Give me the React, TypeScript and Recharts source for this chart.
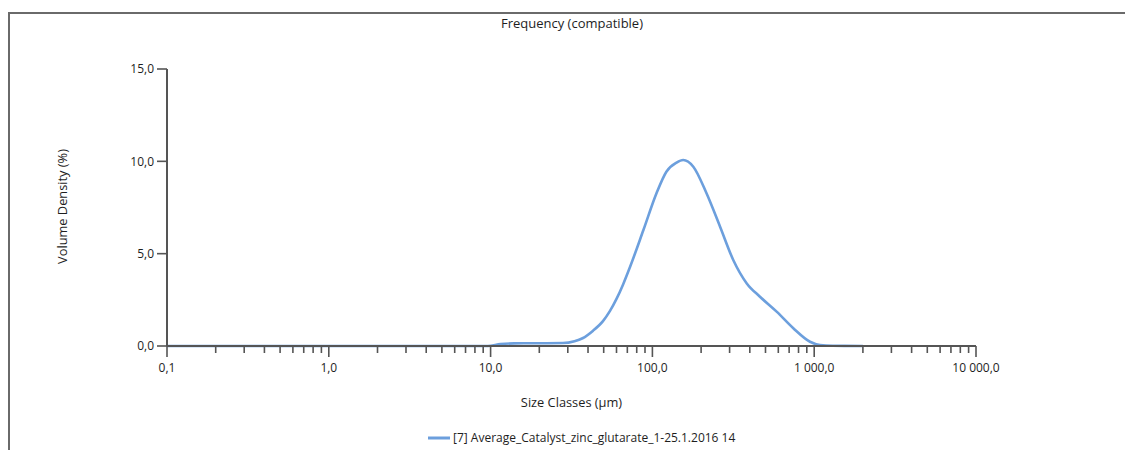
import React from 'react';
import { LineChart, Line, XAxis, YAxis, Legend } from 'recharts';

// particle size classes (µm) and volume density (%)
const sizes = [
  0.1, 1, 9.6, 11.5, 14, 20, 28, 33, 37, 43, 49.5, 54.7, 60, 66, 72.8, 88, 106, 122, 141, 155,
  179, 216, 262, 316, 383, 462, 586, 743, 942, 1086, 1300, 2000,
];
const density = [
  0, 0, 0, 0.1, 0.14, 0.15, 0.16, 0.26, 0.42, 0.83, 1.35, 1.9, 2.55, 3.35, 4.29, 6.28, 8.27,
  9.44, 9.93, 10.07, 9.71, 8.27, 6.46, 4.66, 3.39, 2.67, 1.86, 0.96, 0.23, 0.05, 0.01, 0,
];
const seriesName = '[7] Average_Catalyst_zinc_glutarate_1-25.1.2016 14';
const decades = [0.1, 1, 10, 100, 1000, 10000];
const yTicks = [0, 5, 10, 15];

const data = sizes.map((s, i) => ({ size: s, value: density[i] }));

// major ticks on each decade, minor ticks at 2..9
const xTicks: number[] = [];
decades.forEach((d, i) => {
  if (i === decades.length - 1) {
    xTicks.push(d);
    return;
  }
  for (let m = 1; m <= 9; m++) xTicks.push(+(d * m).toPrecision(6));
});

const isMajor = (v: number) => decades.some((d) => Math.abs(d - v) < 1e-9);

const fmt = (v: number) => {
  const [int, dec] = v.toFixed(1).split('.');
  return int.replace(/\B(?=(\d{3})+(?!\d))/g, ' ') + ',' + dec;
};

const FONT = '"Open Sans", "DejaVu Sans", sans-serif';
const AXIS = '#555';
const LINE = '#6c9fdd';
const TEXT = '#1e1e1e';

const XTick = (props: any) => {
  const { x, y, payload } = props;
  const major = isMajor(payload.value);
  return (
    <g>
      <line x1={x} x2={x} y1={y} y2={y + (major ? 11 : 7)} stroke={AXIS} strokeWidth={1.6} />
      {major && (
        <text x={x} y={y + 26} textAnchor="middle" fontSize={12} fill={TEXT} fontFamily={FONT}>
          {fmt(payload.value)}
        </text>
      )}
    </g>
  );
};

const LegendContent = () => (
  <div style={{ display: 'flex', alignItems: 'center', marginLeft: 428, fontFamily: FONT, fontSize: 12, color: TEXT }}>
    <svg width={22} height={6} style={{ marginRight: 3 }}>
      <line x1={0} x2={22} y1={3} y2={3} stroke={LINE} strokeWidth={3} />
    </svg>
    <span>{seriesName}</span>
  </div>
);

export default function App() {
  return (
    <div style={{ position: 'absolute', left: 0, top: 0, width: 1125, height: 450, background: '#fff' }}>
      <div
        style={{
          position: 'absolute',
          left: 8,
          top: 12,
          width: 1117,
          height: 438,
          borderTop: '2px solid #6a6a6a',
          borderLeft: '2px solid #6a6a6a',
          boxSizing: 'border-box',
        }}
      />
      <div
        style={{
          position: 'absolute',
          left: 0,
          width: 1144,
          top: 16,
          textAlign: 'center',
          fontFamily: FONT,
          fontSize: 13,
          lineHeight: '15px',
          color: TEXT,
        }}
      >
        Frequency (compatible)
      </div>
      <LineChart width={1125} height={450} data={data} margin={{ top: 69, right: 149, bottom: 0, left: 0 }}>
        <XAxis
          dataKey="size"
          type="number"
          scale="log"
          domain={[0.1, 10000]}
          ticks={xTicks}
          interval={0}
          height={104}
          tickSize={0}
          tickMargin={0}
          tickLine={false}
          axisLine={{ stroke: AXIS, strokeWidth: 2 }}
          tick={<XTick />}
          allowDataOverflow
          label={({ viewBox }: any) => (
            <text
              x={viewBox.x + viewBox.width / 2}
              y={viewBox.y + 61}
              textAnchor="middle"
              fontSize={12.8}
              fill={TEXT}
              fontFamily={FONT}
            >
              Size Classes (µm)
            </text>
          )}
        />
        <YAxis
          type="number"
          domain={[0, 15]}
          ticks={yTicks}
          interval={0}
          width={167}
          tickSize={10}
          tickMargin={3}
          tickFormatter={fmt}
          tick={{ fontSize: 12, fill: TEXT, fontFamily: FONT }}
          tickLine={{ stroke: AXIS, strokeWidth: 1.6 }}
          axisLine={{ stroke: AXIS, strokeWidth: 2 }}
          label={({ viewBox }: any) => {
            const cx = viewBox.x + 62;
            const cy = viewBox.y + viewBox.height / 2 - 1;
            return (
              <text
                x={cx}
                y={cy}
                transform={`rotate(-90 ${cx} ${cy})`}
                textAnchor="middle"
                dominantBaseline="central"
                fontSize={12.8}
                fill={TEXT}
                fontFamily={FONT}
              >
                Volume Density (%)
              </text>
            );
          }}
        />
        <Legend
          verticalAlign="middle"
          align="center"
          layout="horizontal"
          content={<LegendContent />}
          wrapperStyle={{ position: 'absolute', left: 0, top: 429, width: 1125, height: 18 }}
        />
        <Line
          type="monotone"
          dataKey="value"
          name={seriesName}
          stroke={LINE}
          strokeWidth={2.6}
          dot={false}
          activeDot={false}
          isAnimationActive={false}
        />
      </LineChart>
    </div>
  );
}
